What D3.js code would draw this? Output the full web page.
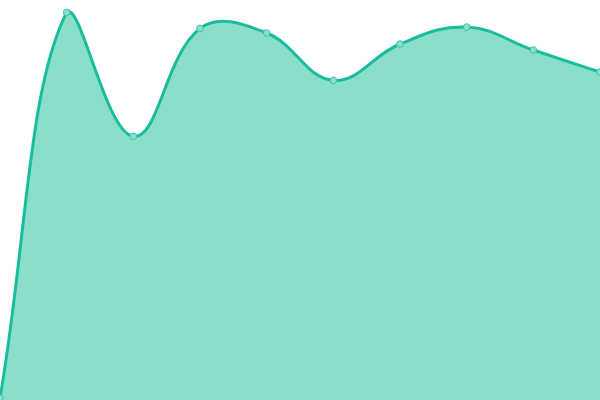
<!DOCTYPE html>
<html><head><meta charset="utf-8">
<script src="https://cdn.jsdelivr.net/npm/d3@7"></script>
<style>html,body{margin:0;padding:0;background:#fff;}svg{display:block;}</style>
</head><body>
<svg id="chart" width="600" height="400"></svg>
<script>
const categories = ["1","2","3","4","5","6","7","8","9","10"];
const values = [0.5, 96.9, 65.9, 92.9, 91.75, 79.9, 89, 93.25, 87.5, 82];

const W = 600, H = 400;
const svg = d3.select("#chart");
const x = d3.scalePoint().domain(categories).range([0, W]);
const y = d3.scaleLinear().domain([0, 100]).range([H, 0]);

// Distance-weighted spline (tension 0.4) with control points capped to the plot area
function SplineCurve(context) { this._context = context; }
SplineCurve.prototype = {
  areaStart() { this._line = 0; },
  areaEnd() { this._line = NaN; },
  lineStart() { this._pts = []; },
  point(px, py) { this._pts.push([+px, +py]); },
  lineEnd() {
    const p = this._pts, n = p.length, t = 0.4, ctx = this._context;
    if (!n) return;
    const cap = (v, lo, hi) => Math.max(lo, Math.min(hi, v));
    const cps = p.map((cur, i) => {
      const prev = p[i - 1] || cur, next = p[i + 1] || cur;
      const d01 = Math.hypot(cur[0] - prev[0], cur[1] - prev[1]);
      const d12 = Math.hypot(next[0] - cur[0], next[1] - cur[1]);
      let s01 = d01 / (d01 + d12), s12 = d12 / (d01 + d12);
      if (!isFinite(s01)) s01 = 0; if (!isFinite(s12)) s12 = 0;
      const fa = t * s01, fb = t * s12;
      return {
        px: cap(cur[0] - fa * (next[0] - prev[0]), 0, W),
        py: cap(cur[1] - fa * (next[1] - prev[1]), 0, H),
        nx: cap(cur[0] + fb * (next[0] - prev[0]), 0, W),
        ny: cap(cur[1] + fb * (next[1] - prev[1]), 0, H)
      };
    });
    if (this._line) ctx.lineTo(p[0][0], p[0][1]); else ctx.moveTo(p[0][0], p[0][1]);
    for (let i = 1; i < n; i++) {
      ctx.bezierCurveTo(cps[i-1].nx, cps[i-1].ny, cps[i].px, cps[i].py, p[i][0], p[i][1]);
    }
    if (this._line || (this._line !== 0 && n === 1)) ctx.closePath();
    this._line = 1 - this._line;
  }
};
const spline = ctx => new SplineCurve(ctx);

const data = categories.map((c, i) => ({c, v: values[i]}));

svg.append("path").datum(data)
  .attr("fill", "rgba(22,192,152,0.5)")
  .attr("d", d3.area().curve(spline).x(d => x(d.c)).y0(y(0)).y1(d => y(d.v)));

svg.append("path").datum(data)
  .attr("fill", "none").attr("stroke", "#1abc9c").attr("stroke-width", 3)
  .attr("d", d3.line().curve(spline).x(d => x(d.c)).y(d => y(d.v)));

svg.selectAll("circle").data(data).join("circle")
  .attr("cx", d => x(d.c)).attr("cy", d => y(d.v)).attr("r", 3.3)
  .attr("fill", "#8ddecd").attr("stroke", "#3cc4a8").attr("stroke-width", 1);
</script>
</body></html>
